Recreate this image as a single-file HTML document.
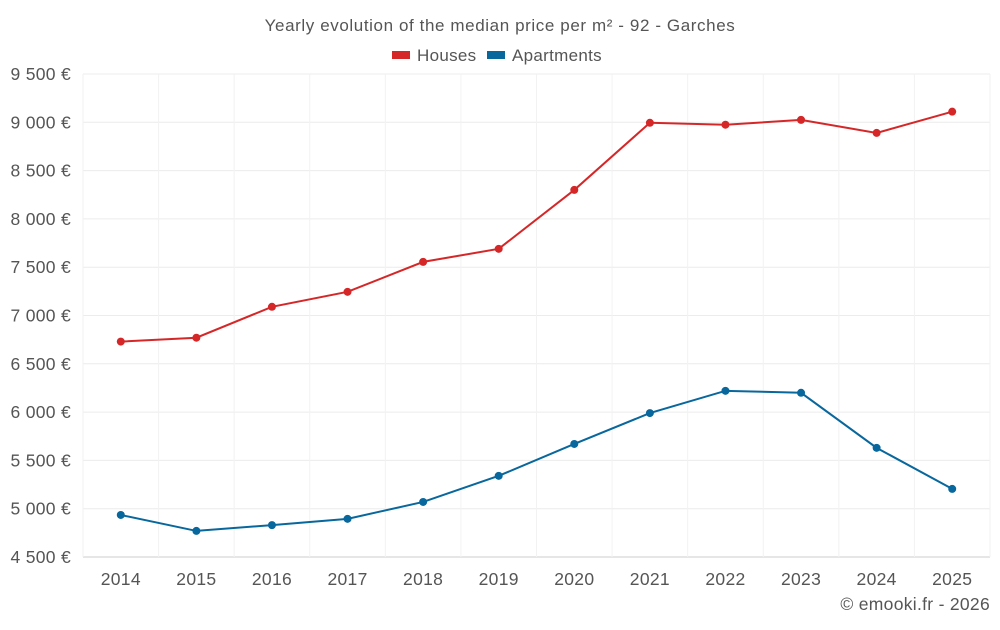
<!DOCTYPE html>
<html><head><meta charset="utf-8"><style>
body{margin:0;background:#fff;font-family:"Liberation Sans",sans-serif;}
svg text{font-family:"Liberation Sans",sans-serif;letter-spacing:0.3px;}
</style></head><body>
<svg id="chart" width="1000" height="625">
<text x="500" y="31" text-anchor="middle" font-size="17" fill="#555" style="letter-spacing:0.6px">Yearly evolution of the median price per m² - 92 - Garches</text>
<g>
<g><rect x="392" y="51" width="18" height="8" fill="#d62728"/><text x="417" y="61" font-size="17" fill="#555">Houses</text></g>
<g><rect x="487" y="51" width="18" height="8" fill="#08679c"/><text x="512" y="61" font-size="17" fill="#555">Apartments</text></g>
</g>
<g id="grid"></g>
<g id="axes"></g>
<g id="series"></g>
<text x="990" y="610" text-anchor="end" font-size="17.5" fill="#555">© emooki.fr - 2026</text>
</svg>
<script>
const years=[2014,2015,2016,2017,2018,2019,2020,2021,2022,2023,2024,2025];
const houses=[6730,6770,7090,7245,7555,7690,8300,8995,8975,9025,8890,9110];
const apartments=[4935,4770,4830,4895,5070,5340,5670,5990,6220,6200,5630,5205];
const yTicks=[4500,5000,5500,6000,6500,7000,7500,8000,8500,9000,9500];
const L=83,R=990,T=74,B=557,yMin=4500,yMax=9500;
const ns="http://www.w3.org/2000/svg";
const step=(R-L)/years.length;
const x=i=>L+step*(i+0.5);
const y=v=>B-(v-yMin)/(yMax-yMin)*(B-T);
function mk(t,a,p){const e=document.createElementNS(ns,t);for(const k in a)e.setAttribute(k,a[k]);p.appendChild(e);return e;}
const grid=document.getElementById('grid'),axes=document.getElementById('axes'),ser=document.getElementById('series');
yTicks.forEach(v=>{
const l=mk('line',{x1:L,x2:R,y1:y(v),y2:y(v),stroke:v===yMin?'#ccc':'#ececec'},grid);


const t=mk('text',{x:L-12,y:y(v)+6,'text-anchor':'end','font-size':17.5,fill:'#555'},axes);
t.textContent=v.toLocaleString('fr-FR').replace(/\s/g,' ')+' €';


});
for(let i=0;i<=years.length;i++){
const l=mk('line',{x1:L+step*i,x2:L+step*i,y1:T,y2:B,stroke:'#f2f2f2'},grid);


}
years.forEach((yr,i)=>{
const t=mk('text',{x:x(i),y:585,'text-anchor':'middle','font-size':17.5,fill:'#555'},axes);
t.textContent=yr;


});
function draw(vals,color,name){
const p=mk('polyline',{points:vals.map((v,i)=>x(i)+','+y(v)).join(' '),fill:'none',stroke:color,'stroke-width':2},ser);


vals.forEach((v,i)=>{
const c=mk('circle',{cx:x(i),cy:y(v),r:4,fill:color},ser);


});
}
draw(houses,'#d62728','houses');
draw(apartments,'#08679c','apartments');
</script>
</body></html>
